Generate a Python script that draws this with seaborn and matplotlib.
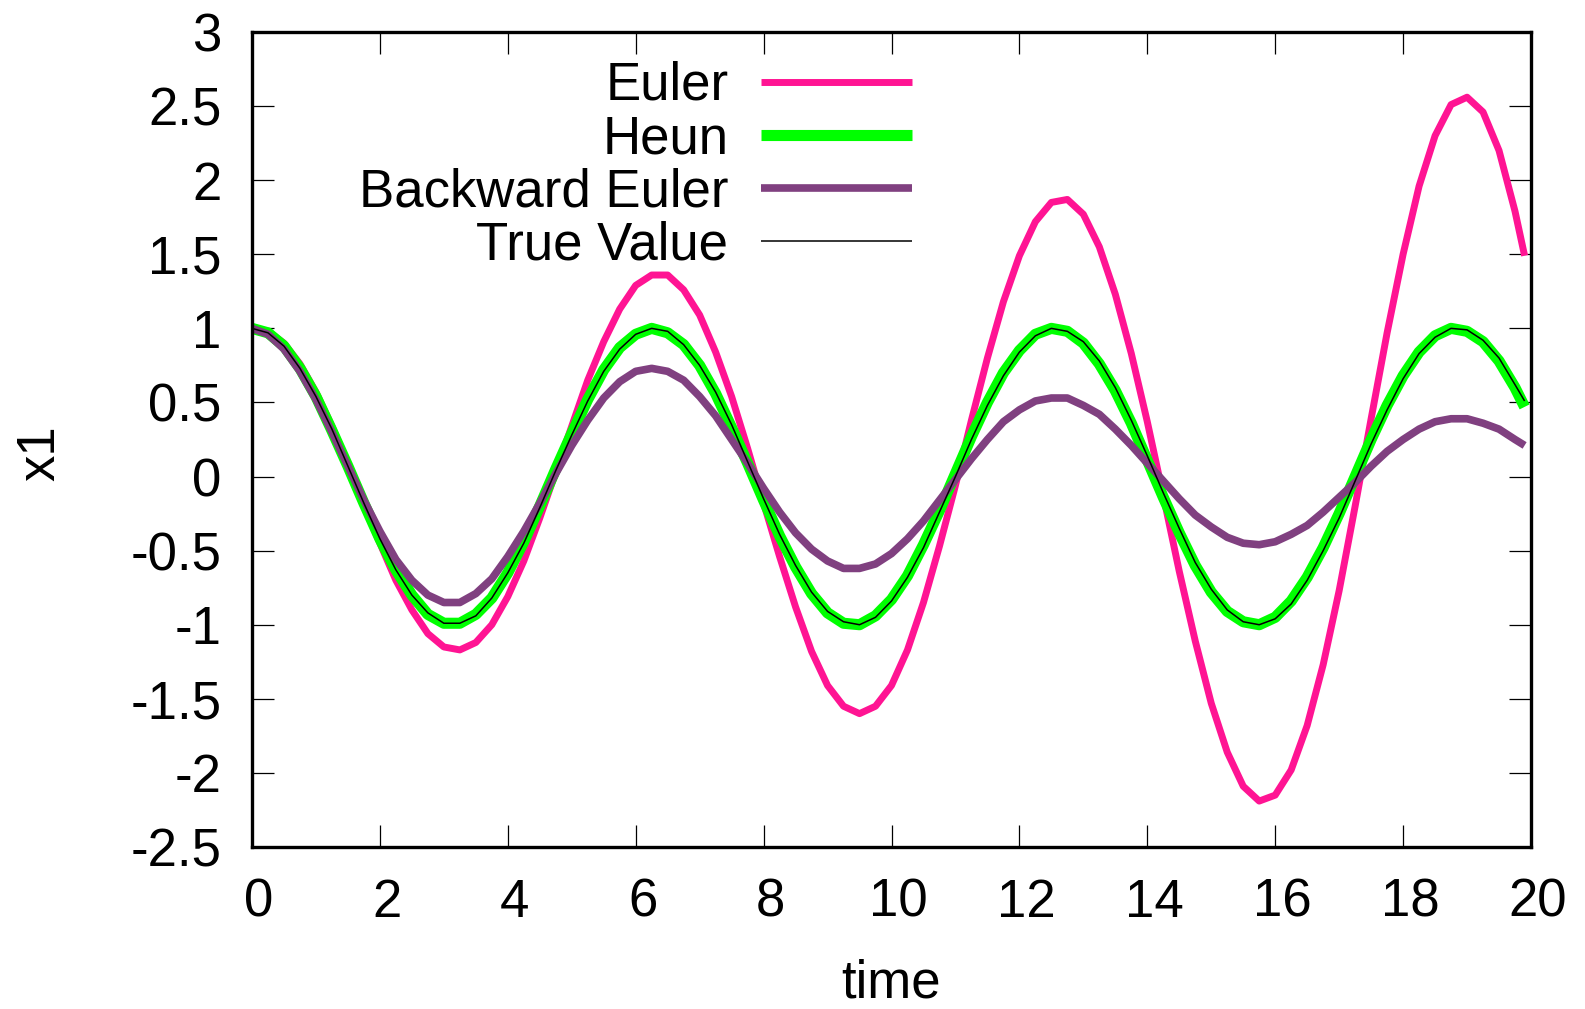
import matplotlib
matplotlib.use('Agg')
import matplotlib.pyplot as plt
import seaborn as sns
from matplotlib.ticker import MultipleLocator, FormatStrFormatter
from matplotlib.transforms import ScaledTranslation

# values
time = [0, 0.25, 0.5, 0.75, 1, 1.25, 1.5, 1.75, 2, 2.25, 2.5, 2.75, 3, 3.25, 3.5, 3.75,
        4, 4.25, 4.5, 4.75, 5, 5.25, 5.5, 5.75, 6, 6.25, 6.5, 6.75, 7, 7.25, 7.5, 7.75,
        8, 8.25, 8.5, 8.75, 9, 9.25, 9.5, 9.75, 10, 10.25, 10.5, 10.75, 11, 11.25, 11.5, 11.75,
        12, 12.25, 12.5, 12.75, 13, 13.25, 13.5, 13.75, 14, 14.25, 14.5, 14.75, 15, 15.25, 15.5, 15.75,
        16, 16.25, 16.5, 16.75, 17, 17.25, 17.5, 17.75, 18, 18.25, 18.5, 18.75, 19, 19.25, 19.5, 19.75,
        19.9]

euler = [1.00, 0.98, 0.90, 0.76, 0.57, 0.34, 0.08, -0.19, -0.45, -0.70, -0.90, -1.06, -1.15, -1.17, -1.12, -1.00,
         -0.81, -0.57, -0.28, 0.03, 0.34, 0.65, 0.91, 1.13, 1.29, 1.36, 1.36, 1.26, 1.09, 0.84, 0.54, 0.19,
         -0.18, -0.54, -0.88, -1.18, -1.41, -1.55, -1.60, -1.55, -1.41, -1.17, -0.85, -0.47, -0.06, 0.38, 0.80, 1.18,
         1.49, 1.72, 1.85, 1.87, 1.77, 1.55, 1.23, 0.83, 0.37, -0.13, -0.64, -1.11, -1.53, -1.86, -2.09, -2.19,
         -2.15, -1.98, -1.68, -1.27, -0.77, -0.20, 0.39, 0.97, 1.50, 1.96, 2.30, 2.51, 2.56, 2.46, 2.20, 1.79,
         1.49]

heun = [1.00, 0.97, 0.88, 0.73, 0.54, 0.31, 0.07, -0.18, -0.42, -0.63, -0.80, -0.93, -0.99, -0.99, -0.93, -0.82,
        -0.65, -0.44, -0.20, 0.05, 0.29, 0.52, 0.72, 0.87, 0.96, 1.00, 0.97, 0.89, 0.75, 0.56, 0.33, 0.09,
        -0.16, -0.40, -0.61, -0.79, -0.92, -0.99, -1.00, -0.94, -0.83, -0.67, -0.46, -0.23, 0.02, 0.27, 0.50, 0.70,
        0.85, 0.96, 1.00, 0.98, 0.90, 0.76, 0.58, 0.36, 0.11, -0.14, -0.38, -0.60, -0.78, -0.91, -0.98, -1.00,
        -0.95, -0.84, -0.68, -0.48, -0.25, 0.00, 0.25, 0.48, 0.68, 0.84, 0.95, 1.00, 0.98, 0.91, 0.78, 0.60,
        0.47]

backward_euler = [1.00, 0.96, 0.86, 0.71, 0.52, 0.30, 0.07, -0.16, -0.37, -0.56, -0.70, -0.80, -0.85, -0.85, -0.79, -0.69,
                  -0.54, -0.37, -0.18, 0.02, 0.21, 0.38, 0.53, 0.64, 0.71, 0.73, 0.71, 0.65, 0.54, 0.41, 0.25, 0.09,
                  -0.08, -0.24, -0.38, -0.49, -0.57, -0.62, -0.62, -0.59, -0.52, -0.42, -0.30, -0.16, -0.02, 0.12, 0.25, 0.37,
                  0.45, 0.51, 0.53, 0.53, 0.48, 0.42, 0.32, 0.21, 0.09, -0.03, -0.15, -0.26, -0.34, -0.41, -0.45, -0.46,
                  -0.44, -0.39, -0.33, -0.24, -0.14, -0.04, 0.07, 0.17, 0.25, 0.32, 0.37, 0.39, 0.39, 0.36, 0.32, 0.25,
                  0.21]

true_value = [1.00, 0.97, 0.88, 0.73, 0.54, 0.32, 0.07, -0.18, -0.42, -0.63, -0.80, -0.92, -0.99, -0.99, -0.94, -0.82,
              -0.65, -0.45, -0.21, 0.04, 0.28, 0.51, 0.71, 0.86, 0.96, 1.00, 0.98, 0.89, 0.75, 0.57, 0.35, 0.10,
              -0.15, -0.39, -0.60, -0.78, -0.91, -0.98, -1.00, -0.95, -0.84, -0.68, -0.48, -0.24, 0.00, 0.25, 0.48, 0.68,
              0.84, 0.95, 1.00, 0.98, 0.91, 0.78, 0.60, 0.38, 0.14, -0.11, -0.35, -0.58, -0.76, -0.90, -0.98, -1.00,
              -0.96, -0.86, -0.70, -0.50, -0.28, -0.03, 0.22, 0.45, 0.66, 0.83, 0.94, 1.00, 0.99, 0.92, 0.80, 0.62,
              0.51]

sns.set_style('ticks')
plt.rcParams['font.family'] = ['Liberation Sans', 'DejaVu Sans']
plt.rcParams['axes.unicode_minus'] = False
plt.rcParams['text.color'] = 'black'
plt.rcParams['axes.labelcolor'] = 'black'

fig = plt.figure(figsize=(15.85, 10.09), dpi=100)
ax = fig.add_axes([252 / 1585, 1 - 847 / 1009, 1279 / 1585, 815 / 1009])

series = [
    ('Euler', euler, '#ff1493', 5),
    ('Heun', heun, '#00ff00', 8),
    ('Backward Euler', backward_euler, '#804080', 5.5),
    ('True Value', true_value, 'black', 1.1),
]
for name, vals, color, lw in series:
    sns.lineplot(x=time, y=vals, ax=ax, color=color, linewidth=lw, label=name,
                 sort=False, estimator=None,
                 solid_joinstyle='round', solid_capstyle='butt')

ax.set_xlim(0, 20)
ax.set_ylim(-2.5, 3)
ax.xaxis.set_major_locator(MultipleLocator(2))
ax.yaxis.set_major_locator(MultipleLocator(0.5))
ax.yaxis.set_major_formatter(FormatStrFormatter('%g'))
ax.tick_params(direction='in', length=16, width=0.9, color='black',
               top=True, right=True, labelsize=38, labelcolor='black')
ax.tick_params(axis='x', pad=22)
ax.tick_params(axis='y', pad=22)
for spine in ax.spines.values():
    spine.set_linewidth(2.4)
    spine.set_color('black')

# gnuplot puts x tick labels a bit right of the tick
for lab in ax.get_xticklabels():
    lab.set_transform(lab.get_transform() + ScaledTranslation(0.07, 0, fig.dpi_scale_trans))

ax.set_xlabel('time', fontsize=38, va='center')
ax.set_ylabel('x1', fontsize=38, va='center')
ax.xaxis.set_label_coords(891 / 1585, 1 - 983 / 1009, transform=fig.transFigure)
ax.yaxis.set_label_coords(40 / 1585, 1 - 453 / 1009, transform=fig.transFigure)

ax.legend(loc='upper right', bbox_to_anchor=(912 / 1585, 1 - 61 / 1009),
          bbox_transform=fig.transFigure, frameon=False, markerfirst=False,
          fontsize=38, handlelength=2.86, handletextpad=0.62, labelspacing=0.06,
          borderpad=0, borderaxespad=0)

fig.savefig('out.png', dpi=100)
